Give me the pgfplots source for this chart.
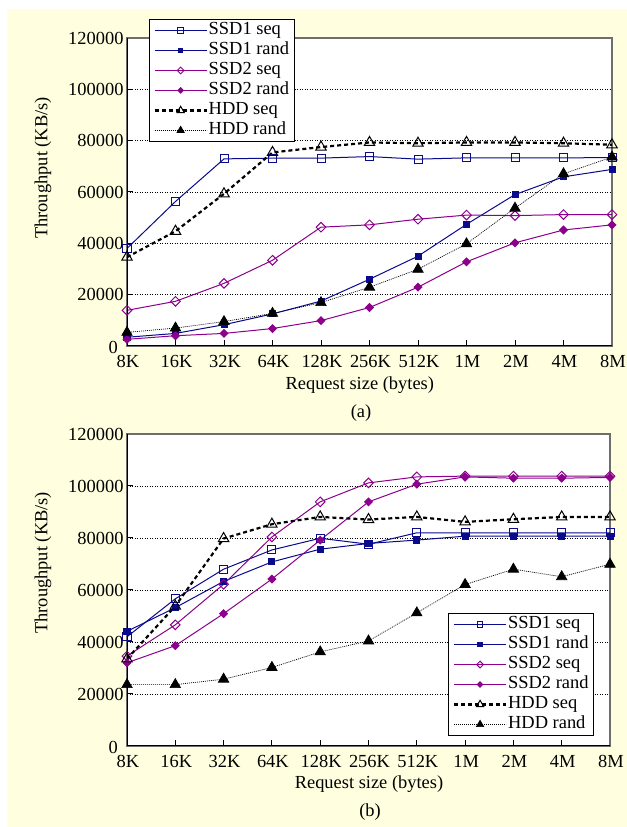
\documentclass[border=0pt]{standalone}
\usepackage{pgfplots}
\pgfplotsset{compat=1.18}
\usepackage{pgfplotstable}
\usepackage{fontspec}
\setmainfont{Liberation Serif}
\definecolor{cream}{RGB}{255,255,224}
\definecolor{ssdone}{RGB}{10,10,140}
\definecolor{ssdtwo}{RGB}{140,0,140}
\definecolor{framegray}{RGB}{110,110,110}

\pgfplotstableread{
x s1s s1r s2s s2r hs hr
0 38000 3400 13900 2600 34600 5300
1 56300 4900 17400 4000 44700 7000
2 72900 8300 24400 4900 59300 9500
3 73200 12500 33400 6800 75400 12700
4 73200 17500 46300 9900 77500 16900
5 73800 26000 47200 15000 79300 22900
6 72800 35000 49400 22900 79000 29900
7 73300 47400 51000 32800 79300 39800
8 73300 59000 50800 40200 79300 53700
9 73300 65900 51200 45200 79000 67100
10 73400 68800 51200 47200 78400 73600
}\dataA

\pgfplotstableread{
x s1s s1r s2s s2r hs hr
0 42000 44100 34600 32000 33500 23600
1 56600 53200 46600 38600 53800 23600
2 68000 63300 62200 50900 79800 25700
3 75400 70800 80400 64200 85300 30200
4 79900 75700 93900 79200 88100 36200
5 77600 77900 101200 93900 87100 40400
6 82000 79200 103500 100700 88100 51200
7 82000 80700 103800 103500 86200 62100
8 82000 80700 103800 103000 87200 68000
9 82000 80700 103800 103000 88100 65100
10 82000 80700 103800 103300 88100 69900
}\dataB

\pgfplotsset{
 myaxis/.style={
  scale only axis, xmin=0, xmax=10, ymin=0, ymax=120000,
  xtick={0,...,10}, xticklabels={8K,16K,32K,64K,128K,256K,512K,1M,2M,4M,8M},
  ytick={20000,40000,...,120000}, yticklabels={20000,40000,60000,80000,100000,120000},
  extra y ticks={0}, extra y tick labels={0},
  extra y tick style={grid=none, tick label style={inner sep=0pt, xshift=-9bp, yshift=-1bp}},
  scaled y ticks=false,
  tick align=inside, xtick pos=bottom, ytick pos=left,
  major tick length=6bp,
  tick style={black, line width=1bp},
  ymajorgrids, grid style={black, line width=0.6bp, dash pattern=on 1bp off 1.5bp},
  axis line style={framegray, line width=2bp},
  font=\fontsize{18.5}{22}\selectfont,
  xticklabel style={inner sep=0pt, yshift=-9bp, xshift=1bp},
  xlabel={Request size (bytes)}, ylabel={Throughput (KB/s)},
  axis background/.style={fill=white},
  legend cell align=left,
  legend style={draw=black, line width=1bp, fill=white, font=\fontsize{18.5}{22}\selectfont,
    row sep=0pt, inner xsep=4bp, inner ysep=1bp,
    nodes={inner sep=1bp, text height=13bp, text depth=5bp}},
  legend image code/.code={\draw[mark repeat=2,mark phase=2,#1, mark size=0.7\pgfplotmarksize] plot coordinates {(0bp,0bp) (26bp,0bp) (52bp,0bp)};},
 },
 s1s/.style={ssdone, line width=1bp, mark=square, mark size=4bp, mark options={solid}},
 s1r/.style={ssdone, line width=1bp, mark=square*, mark size=3bp, mark options={solid}},
 s2s/.style={ssdtwo, line width=1bp, mark=square, mark size=3.4bp, mark options={solid, rotate=45}},
 s2r/.style={ssdtwo, line width=1bp, mark=square*, mark size=2.7bp, mark options={solid, rotate=45}},
 hs/.style={black, line width=2.2bp, dash pattern=on 4bp off 3bp, mark=triangle, mark size=6bp, mark options={solid, line width=1bp}},
 hr/.style={black, line width=0.7bp, dash pattern=on 1bp off 1bp, mark=triangle*, mark size=6bp, mark options={solid}},
}

\begin{document}
\begin{tikzpicture}
\useasboundingbox (0,0) rectangle (627bp,827bp);
\fill[cream] (7bp,0) rectangle (627bp,818bp);

\begin{axis}[myaxis, at={(127bp,481bp)}, anchor=south west, width=485bp, height=308bp,
  xlabel style={at={(axis description cs:0.48,-0.127)}, anchor=center},
  ylabel style={at={(axis description cs:-0.173,0.578)}, anchor=center},
  legend style={at={(axis description cs:0.0454,1.0617)}, anchor=north west}]
\addplot[s1s] table[x=x,y=s1s] {\dataA}; \addlegendentry{SSD1 seq}
\addplot[s1r] table[x=x,y=s1r] {\dataA}; \addlegendentry{SSD1 rand}
\addplot[s2s] table[x=x,y=s2s] {\dataA}; \addlegendentry{SSD2 seq}
\addplot[s2r] table[x=x,y=s2r] {\dataA}; \addlegendentry{SSD2 rand}
\addplot[hs] table[x=x,y=hs] {\dataA}; \addlegendentry{HDD seq}
\addplot[hr] table[x=x,y=hr] {\dataA}; \addlegendentry{HDD rand}
\draw[black, line width=2bp] (rel axis cs:0,1) -- (rel axis cs:0,0) -- (rel axis cs:1,0);
\end{axis}

\begin{axis}[myaxis, at={(127bp,81bp)}, anchor=south west, width=483bp, height=312bp,
  xlabel style={at={(axis description cs:0.501,-0.122)}, anchor=center},
  ylabel style={at={(axis description cs:-0.174,0.587)}, anchor=center},
  legend style={at={(axis description cs:0.967,0.032)}, anchor=south east}]
\addplot[s1s] table[x=x,y=s1s] {\dataB}; \addlegendentry{SSD1 seq}
\addplot[s1r] table[x=x,y=s1r] {\dataB}; \addlegendentry{SSD1 rand}
\addplot[s2s] table[x=x,y=s2s] {\dataB}; \addlegendentry{SSD2 seq}
\addplot[s2r] table[x=x,y=s2r] {\dataB}; \addlegendentry{SSD2 rand}
\addplot[hs] table[x=x,y=hs] {\dataB}; \addlegendentry{HDD seq}
\addplot[hr] table[x=x,y=hr] {\dataB}; \addlegendentry{HDD rand}
\draw[black, line width=2bp] (rel axis cs:0,1) -- (rel axis cs:0,0) -- (rel axis cs:1,0);
\end{axis}

\node[font=\fontsize{18.5}{22}\selectfont] at (361bp,414bp) {(a)};
\node[font=\fontsize{18.5}{22}\selectfont] at (370bp,15bp) {(b)};
\end{tikzpicture}
\end{document}
